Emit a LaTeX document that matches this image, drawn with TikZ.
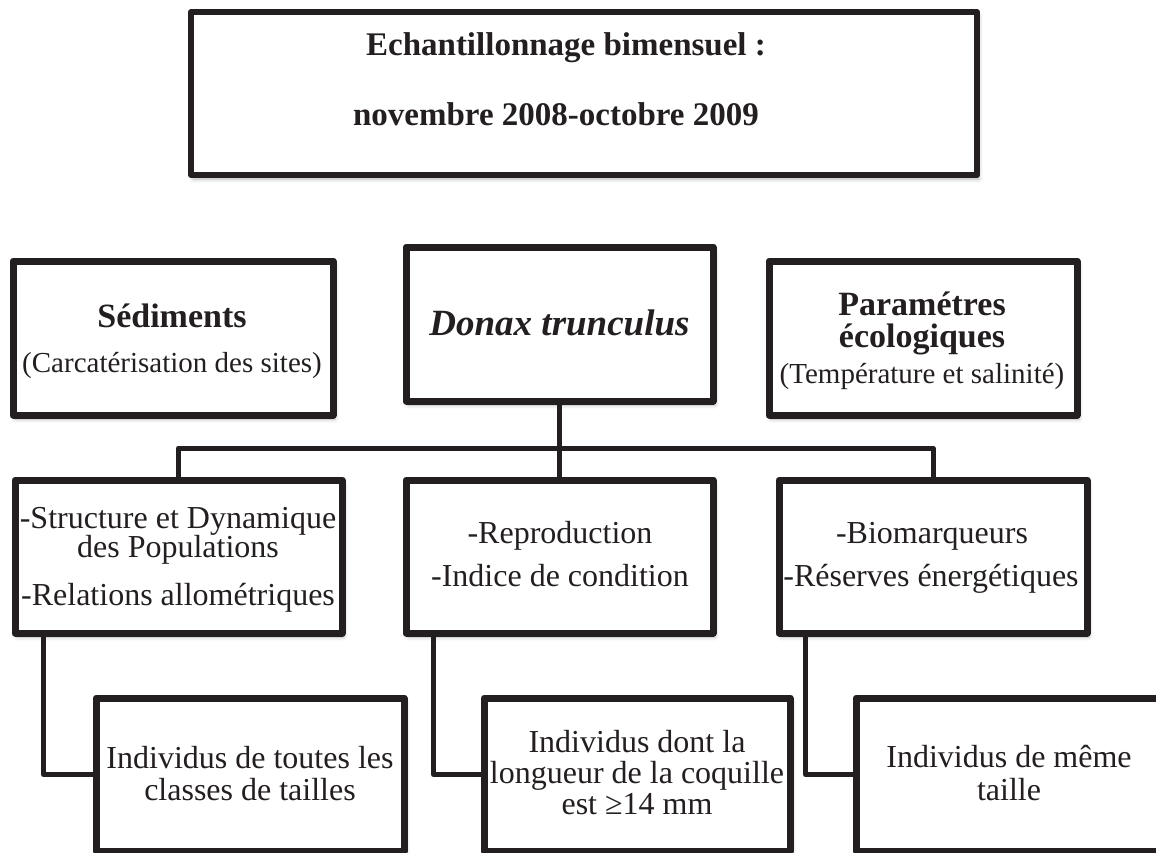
\documentclass[tikz,border=0pt]{standalone}
\usepackage{fontspec}
\setmainfont{Liberation Serif}
\usetikzlibrary{shadows.blur}
\definecolor{ink}{RGB}{35,31,32}
\tikzset{
  panel/.style={rectangle, draw=ink, line width=7pt, line join=round, fill=white,
    inner sep=0pt,
    blur shadow={shadow xshift=2pt, shadow yshift=-4pt, shadow blur radius=4pt, shadow opacity=30}},
  conn/.style={draw=ink, line width=5pt, line join=round},
  txt/.style={anchor=base, inner sep=0pt, text=ink, font=\fontsize{32}{32}\selectfont},
  txtsmall/.style={txt, font=\fontsize{29}{29}\selectfont},
  txthead/.style={txt, font=\fontsize{34}{34}\selectfont\bfseries},
  txttitle/.style={txt, font=\fontsize{33}{33}\selectfont\bfseries},
  txtspecies/.style={txt, font=\fontsize{37}{37}\selectfont\bfseries\itshape},
}
\begin{document}
\begin{tikzpicture}[x=1pt, y=-1pt]
\useasboundingbox (0,0) rectangle (1156,852);

% sampling period
\node[panel, line width=6pt, minimum width=786pt, minimum height=163pt] (period) at (584,93.5) {};
\node[txttitle] (period-a) at (566,55) {Echantillonnage bimensuel :};
\node[txttitle] (period-b) at (556,125) {novembre 2008-octobre 2009};

% first row
\node[panel, minimum width=320pt, minimum height=154pt] (sed) at (173,338) {};
\node[txthead] (sed-a) at (172,327) {Sédiments};
\node[txtsmall] (sed-b) at (172,372) {(Carcatérisation des sites)};

\node[panel, minimum width=307pt, minimum height=154pt] (donax) at (559.5,324) {};
\node[txtspecies] (donax-a) at (559.5,335) {Donax trunculus};

\node[panel, minimum width=308pt, minimum height=154pt] (param) at (923,338) {};
\node[txthead] (param-a) at (922,315) {Paramétres};
\node[txthead] (param-b) at (922,347) {écologiques};
\node[txtsmall] (param-c) at (922,383) {(Température et salinité)};

% second row
\node[panel, minimum width=327pt, minimum height=153pt] (pop) at (178.5,556.5) {};
\node[txt] (pop-a) at (178,528) {-Structure et Dynamique};
\node[txt] (pop-b) at (178,557) {des Populations};
\node[txt] (pop-c) at (178,605) {-Relations allométriques};

\node[panel, minimum width=307pt, minimum height=153pt] (repro) at (559.5,556.5) {};
\node[txt] (repro-a) at (560,543) {-Reproduction};
\node[txt] (repro-b) at (560,586) {-Indice de condition};

\node[panel, minimum width=308pt, minimum height=153pt] (bio) at (933,556.5) {};
\node[txt] (bio-a) at (932,543) {-Biomarqueurs};
\node[txt] (bio-b) at (931,586) {-Réserves énergétiques};

% third row
\node[panel, minimum width=308pt, minimum height=153pt] (all) at (250,774.5) {};
\node[txt] (all-a) at (250,768) {Individus de toutes les};
\node[txt] (all-b) at (250,800) {classes de tailles};

\node[panel, minimum width=306pt, minimum height=153pt] (large) at (637,774.5) {};
\node[txt] (large-a) at (637,752) {Individus dont la};
\node[txt] (large-b) at (637,783) {longueur de la coquille};
\node[txt] (large-c) at (637,814) {est ≥14 mm};

\node[panel, minimum width=306pt, minimum height=153pt] (same) at (1009,774.5) {};
\node[txt] (same-a) at (1009,767) {Individus de même};
\node[txt] (same-b) at (1009,800) {taille};

% connectors
\coordinate (bus) at (559.5,448);
\draw[conn] (pop.north) |- (bus) -| (bio.north);
\draw[conn] (donax.south) -- (repro.north);
\draw[conn] ([xshift=32pt]pop.south west) |- (all.west);
\draw[conn] ([xshift=31pt]repro.south west) |- (large.west);
\draw[conn] ([xshift=30pt]bio.south west) |- (same.west);
\end{tikzpicture}
\end{document}
